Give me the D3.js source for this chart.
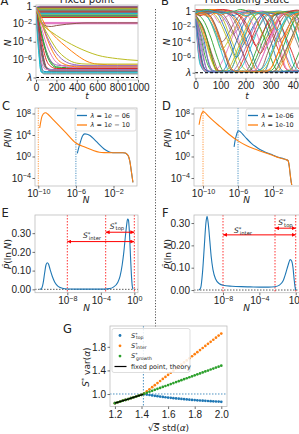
<!DOCTYPE html>
<html><head><meta charset="utf-8">
<script src="https://cdn.jsdelivr.net/npm/d3@7"></script>
<style>
body{margin:0;background:#fff}
svg{display:block;font-family:"DejaVu Sans",sans-serif}
</style></head><body>
<svg id="fig" width="299" height="434"></svg>
<script>
// ---------- data (log10 values where noted) ----------
// A: fixed point trajectories, log10 N
var aSurvT = [0, 40, 1000];
var aSurvStart = [-0.5,-0.9,-0.2,-1.2,-0.4,-0.7,-0.8,-1.0,-0.6,-0.3,-1.4,-0.8,-0.5,-0.2,-1.1,-0.9,-1.2,-0.6,-1.3,-0.3,-0.7,-1.0,-0.5,-1.6,-0.15,-0.95,-0.4,-0.65,-0.35,-1.1];
var aSurvEnd   = [-0.08,-0.12,-0.16,-0.2,-0.24,-0.28,-1.85,-0.36,-0.4,-0.45,-0.5,-0.55,-0.6,-0.66,-0.72,-0.78,-1.95,-0.9,-0.96,-1.02,-1.08,-1.15,-1.22,-1.3,-0.05,-0.14,-2.0,-0.5,-0.32,-0.84];
var aT = [0, 25, 50, 75, 100, 150, 200, 300, 400, 500, 600, 800, 1000];
var aDecay = [
  [-0.6,-3.5,-6.5,-7.3,-7.35,-7.35,-7.35,-7.35,-7.35,-7.35,-7.35,-7.35,-7.35],
  [-0.1,-0.5,-1.2,-1.8,-2.3,-3.0,-3.6,-4.6,-5.5,-6.2,-6.5,-6.6,-6.6],
  [-0.5,-1.5,-2.8,-4.0,-5.0,-6.3,-6.8,-6.9,-6.9,-6.9,-6.9,-6.9,-6.9],
  [-0.3,-2.2,-4.2,-5.8,-6.8,-7.2,-7.25,-7.25,-7.25,-7.25,-7.25,-7.25,-7.25],
  [-0.7,-1.8,-3.2,-4.3,-5.2,-6.2,-6.6,-6.7,-6.7,-6.7,-6.7,-6.7,-6.7],
  [-0.5,-1.2,-1.8,-2.1,-2.25,-2.3,-2.2,-2.05,-1.95,-1.9,-1.9,-1.9,-1.9],
  [-0.2,-1.2,-2.3,-3.3,-4.2,-5.5,-6.3,-6.8,-6.9,-6.9,-6.9,-6.9,-6.9],
  [-0.9,-3.0,-5.2,-6.5,-7.0,-7.2,-7.2,-7.2,-7.2,-7.2,-7.2,-7.2,-7.2],
  [-0.8,-1.4,-1.9,-2.2,-2.5,-2.9,-3.3,-4.0,-4.6,-5.1,-5.5,-5.9,-6.1],
  [-0.8,-4.5,-7.4,-7.5,-7.5,-7.5,-7.5,-7.5,-7.5,-7.5,-7.5,-7.5,-7.5],
  [-0.4,-2.5,-4.5,-6.0,-6.9,-7.1,-7.1,-7.1,-7.1,-7.1,-7.1,-7.1,-7.1],
  [-0.6,-1.0,-1.8,-2.6,-3.4,-4.8,-5.8,-6.6,-6.8,-6.8,-6.8,-6.8,-6.8],
  [-0.3,-1.6,-3.0,-4.2,-5.3,-6.5,-6.9,-7.0,-7.0,-7.0,-7.0,-7.0,-7.0],
  [-0.5,-2.0,-3.6,-5.0,-6.0,-6.8,-7.0,-7.0,-7.0,-7.0,-7.0,-7.0,-7.0],
  [-0.2,-0.8,-1.6,-2.4,-3.2,-4.4,-5.3,-6.3,-6.6,-6.7,-6.7,-6.7,-6.7],
  [-0.7,-2.8,-4.8,-6.2,-6.9,-7.3,-7.3,-7.3,-7.3,-7.3,-7.3,-7.3,-7.3],
  [-0.9,-3.8,-6.0,-6.9,-7.1,-7.15,-7.15,-7.15,-7.15,-7.15,-7.15,-7.15,-7.15],
  [-1.2,-4.0,-6.8,-7.6,-7.6,-7.6,-7.6,-7.6,-7.6,-7.6,-7.6,-7.6,-7.6],
  [-0.4,-1.0,-1.7,-2.3,-2.9,-3.9,-4.8,-5.9,-6.4,-6.5,-6.5,-6.5,-6.5],
  [-1.0,-5.0,-7.3,-7.4,-7.4,-7.4,-7.4,-7.4,-7.4,-7.4,-7.4,-7.4,-7.4]
];
// B: fluctuating trajectories, log10 N (each line shifted in time by bShift)
var bT = [0,25,50,75,100,125,150,175,200,225,250,275,300,325,350,375,400,425,450];
var bLines = [
  [-0.2,-0.1,0,0.1,0,-0.2,-0.5,-1.5,-3.5,-5.5,-7.5,-7.8,-6,-4,-2,-0.5,-0.1,0,0.1],
  [-0.5,-2.5,-5,-7.5,-7.8,-7.8,-6.5,-4.5,-2.5,-0.8,-0.3,-0.2,-1,-3,-5.5,-7.6,-7.8,-7.8,-7],
  [-0.3,-3,-6.5,-7.8,-7.8,-7.8,-7.8,-7.8,-7.9,-7,-5,-3,-1,-0.4,-0.3,-0.5,-2,-4.5,-7],
  [-0.1,0,0.1,0.2,0.1,0,-0.1,0,0.1,0,-0.3,-1.5,-3.5,-5.5,-7.5,-7.8,-7.8,-7.2,-5.5],
  [-0.6,-4,-7.7,-7.9,-7.9,-7.8,-7.9,-7.8,-7.9,-7.8,-7.9,-7.8,-7.9,-7.8,-7.9,-7.8,-7.9,-7.8,-7.9],
  [-0.4,-0.2,-0.5,-2,-4,-3,-1.5,-0.5,-0.2,-0.1,-0.3,-1,-2.5,-4,-3,-1.5,-0.5,-0.2,-0.3],
  [-0.8,-5,-7.8,-7.8,-7.4,-6,-4,-2,-0.5,-0.2,-0.1,0,-0.5,-2.5,-5,-7.5,-7.8,-7.8,-7.8],
  [-0.2,-0.4,-1,-2.5,-4.5,-6.5,-7.8,-7.9,-7.8,-7.5,-6,-4,-2,-0.5,-0.1,0,0.1,-0.2,-1],
  [0,0.2,0.1,-0.2,-1,-3,-5,-7,-7.8,-7.9,-7.8,-7.8,-7.9,-7.2,-5.5,-3.5,-1.5,-0.3,0],
  [-1,-6,-7.9,-7.8,-7.8,-7.9,-7.5,-5.5,-3.5,-1.5,-0.4,-0.2,-0.1,-0.4,-2,-4.5,-7,-7.8,-7.8],
  [-0.3,-0.1,0,-0.4,-2,-4,-6,-4.5,-3,-1.5,-0.5,-0.2,-0.1,-0.2,-0.2,-0.6,-2.5,-5,-7.4],
  [-0.7,-2,-4.5,-7,-7.9,-7.8,-7.9,-7.8,-7.9,-7.8,-7.9,-7.8,-7.5,-6,-4,-2.5,-1,-0.3,-0.2],
  [-0.1,0.1,0.2,0,-0.2,-0.1,0,0.2,0,-0.5,-2,-4,-6.5,-7.8,-7.8,-7.6,-6,-4,-2],
  [-0.9,-4.5,-7.6,-7.9,-7.8,-7.8,-7.9,-7.8,-6.5,-4.5,-2.5,-0.8,-0.2,-0.3,-1.5,-3.5,-5.5,-7.5,-7.9],
  [-0.2,-0.3,-0.1,-0.2,-0.5,-1.5,-3,-2,-0.8,-0.3,-0.2,-0.1,-0.3,-0.2,-0.1,-0.4,-1.2,-0.5,-0.2],
  [-0.5,-1.5,-3.5,-6,-7.8,-7.8,-7.9,-7.8,-7.9,-7.8,-7.8,-7.9,-7.8,-7.9,-7.8,-7.9,-7.8,-7.8,-7.9],
  [-0.4,-0.3,-0.2,-0.1,-0.1,-0.6,-2.5,-5,-7.5,-7.8,-6.5,-4.5,-2.5,-0.6,-0.2,-0.1,-0.3,-1.5,-4],
  [-0.6,-6.5,-7.9,-7.8,-7.9,-7.8,-7.9,-7.8,-7.9,-7.8,-7.9,-7.8,-7.9,-7.8,-7.9,-7.8,-7.9,-7.8,-7.9],
  [-0.3,-0.2,-1,-3,-5,-4,-2.5,-1,-0.3,-0.5,-2,-3.5,-2.5,-1,-0.3,-0.1,-0.2,-0.5,-2],
  [0.1,0,-0.3,-1.5,-3.5,-6,-7.8,-7.8,-7.2,-5.5,-3.5,-1.5,-0.4,-0.1,0,-0.3,-1.5,-3.5,-6],
  [-0.5,-3.5,-7.2,-7.9,-7.8,-6.5,-4.5,-2.5,-0.7,-0.2,-0.4,-2,-4.5,-7,-7.9,-7.8,-7.9,-7,-5],
  [-0.2,-0.1,0.1,0.2,0.1,-0.1,-0.6,-2,-4,-6.5,-7.8,-7.9,-7.8,-7.9,-6.8,-4.8,-2.8,-1,-0.3],
  [-0.8,-2.5,-5.5,-7.8,-7.9,-7.8,-7.9,-7.8,-7.9,-7.9,-7.8,-7.9,-7.5,-5.8,-3.8,-1.8,-0.5,-0.2,-0.1],
  [-0.3,-0.6,-0.4,-0.2,-0.1,-0.3,-0.2,-0.4,-1,-2.5,-4.5,-3,-1.5,-0.5,-0.3,-0.2,-0.4,-0.3,-0.2],
  [-0.4,-5.5,-7.8,-7.9,-7.9,-7.9,-7.8,-7.9,-7.8,-7.9,-7.8,-7.9,-7.9,-7.8,-7.9,-7.9,-7.8,-7.9,-7.8],
  [0,-0.2,-0.8,-2.5,-5,-7.5,-7.9,-7.8,-7.9,-7.8,-7.5,-5.5,-3.5,-1.5,-0.4,-0.1,-0.3,-1.5,-3.5],
  [-0.6,-0.3,-0.2,-0.5,-1.5,-0.8,-0.3,-0.1,-0.2,-1.2,-3,-5,-4,-2,-0.6,-0.3,-0.5,-2,-4.5],
  [-0.7,-4,-7.6,-7.9,-7.9,-7.8,-7.9,-7.9,-7.8,-7.9,-7.9,-7.8,-7.9,-7.8,-7.9,-7.8,-7.9,-6.5,-4.5],
  [-0.1,-0.2,-0.1,-0.6,-2,-4,-6,-7.8,-7.9,-7.9,-7.8,-7.3,-5.5,-3.5,-1.5,-0.3,-0.1,0,0.1],
  [-0.9,-7,-7.9,-7.8,-7.9,-7.8,-7.9,-7.9,-7.8,-7.9,-7.8,-7.4,-6,-4,-2,-0.5,-0.2,-0.5,-2],
  [-0.2,-0.1,-0.3,-0.2,-0.1,-0.3,-0.6,-0.3,-0.1,0,-0.2,-0.1,-0.3,-0.5,-0.2,-0.1,-0.3,-0.1,0],
  [-0.5,-0.4,-0.7,-0.3,-0.5,-0.2,-0.1,-0.4,-0.7,-0.3,-0.1,-0.5,-0.6,-0.2,-0.4,-0.7,-0.3,-0.2,-0.4],
  [-0.3,-0.5,-1.5,-3.5,-6,-7.8,-7.9,-7.8,-7.9,-7.9,-6.5,-4.5,-2.5,-0.7,-0.2,-0.1,-0.2,-1,-3],
  [0.2,0.1,0,0.1,0.2,0.1,-0.2,-1,-2.5,-4,-5.5,-4,-2.5,-1,-0.3,0,0.1,0,-0.2],
  [-0.7,-3,-6,-7.9,-7.8,-7.9,-7.8,-6.8,-5,-3,-1.2,-0.3,-0.6,-2.5,-4.5,-6.5,-7.8,-7.9,-7.8],
  [-0.4,-0.1,0,-0.1,-0.6,-2,-3.8,-5.5,-7.2,-7.9,-7.8,-7.9,-7.8,-6.5,-4.8,-3,-1.2,-0.3,-0.1],
  [-0.8,-6,-7.9,-7.8,-7.9,-7.8,-7.9,-7.8,-7.9,-7.8,-7.6,-6,-4,-2,-0.5,-0.3,-1,-3,-5.5],
  [-0.1,-0.3,-0.2,-0.1,0,-0.3,-1.2,-3,-4.5,-3.5,-2,-0.8,-0.2,-0.1,-0.5,-2,-4,-6,-7.8],
  [-0.6,-1.8,-4,-6.5,-7.9,-7.8,-7.1,-5.2,-3.2,-1.2,-0.3,-0.2,-0.1,-0.2,-0.1,-0.3,-0.9,-2.5,-4.5],
  [-0.2,0,0.1,-0.1,-0.3,-0.2,-0.1,-0.3,-0.6,-0.4,-0.2,-0.3,-1,-2.5,-1.5,-0.6,-0.2,-0.1,-0.2],
  [-1,-7.5,-7.9,-7.9,-7.8,-7.9,-7.8,-7.9,-7.9,-7.8,-7.9,-7.8,-7.9,-7.9,-7.8,-7.9,-7.8,-7.9,-7.9],
  [-0.5,-0.2,-0.4,-1.5,-3.5,-5.5,-7.5,-7.9,-7.8,-7.9,-7.8,-7.9,-7.7,-6.2,-4.2,-2.2,-0.6,-0.2,-0.1]
];
var bShift = [0,8,-6,12,-3,5,-10,3,9,-7,14,-2,6,-12,1,-5,10,-8,4,-14,7,-1,11,-9,2,13,-4,-11,6,-6,0,3,-13,9,-3,15,-8,5,-10,2,12,-5];
// C: P(N), fixed point (log10 N, log10 P)
var cBlueX = [-5.85,-5.7,-5.5,-5.3,-5.05,-4.8,-4.5,-4.0,-3.5,-3.0,-2.5,-2.2,-2.0,-1.5,-1.0,-0.75,-0.55,-0.4,-0.25,-0.1,0.0,0.07];
var cBlueY = [0.6,1.6,2.8,3.8,4.2,4.15,3.9,3.1,2.2,1.4,0.9,0.75,0.7,0.7,0.7,0.65,0.4,0.0,-1.0,-2.8,-4.0,-4.8];
var cOrangeX = [-9.85,-9.6,-9.35,-9.2,-9.0,-8.5,-8.0,-7.0,-6.0,-5.0,-4.2,-3.5,-3.0,-2.0,-1.5,-1.0,-0.75,-0.55,-0.4,-0.25,-0.1,0.0,0.07];
var cOrangeY = [5.3,7.5,8.1,8.15,7.9,7.0,6.1,4.3,2.5,1.7,1.15,0.8,0.72,0.7,0.7,0.7,0.65,0.4,0.0,-1.0,-2.8,-4.0,-4.8];
// D: P(N), fluctuating state
var dBlueX = [-6.45,-6.35,-6.2,-6.05,-5.95,-5.8,-5.5,-5.0,-4.5,-4.0,-3.5,-3.0,-2.0,-1.3,-0.8,-0.5,-0.3,-0.15,-0.05,0.05,0.14];
var dBlueY = [1.8,2.8,3.9,4.6,4.8,4.7,4.2,3.3,2.5,1.85,1.3,0.9,0.25,-0.2,-0.42,-0.6,-0.75,-1.8,-3.2,-4.5,-5.3];
var dOrangeX = [-10.45,-10.3,-10.15,-9.97,-9.8,-9.5,-9.0,-8.0,-7.0,-6.0,-5.0,-4.0,-3.0,-2.0,-1.3,-0.8,-0.5,-0.3,-0.15,-0.05,0.05,0.14];
var dOrangeY = [5.9,7.2,8.0,8.35,8.2,7.7,6.9,5.5,4.1,2.9,2.0,1.35,0.75,0.2,-0.25,-0.45,-0.6,-0.75,-1.8,-3.2,-4.5,-5.3];
var lambdas = [-6, -10];
// E, F: P-hat(ln N) vs log10 N
var eX = [-11.3,-11.1,-10.9,-10.7,-10.55,-10.4,-10.25,-10.05,-9.8,-9.5,-9.1,-8.6,-8.0,-6.0,-4.0,-3.0,-2.5,-2.0,-1.7,-1.45,-1.25,-1.05,-0.9,-0.8,-0.7,-0.58,-0.46,-0.35,-0.25,-0.15];
var eY = [0,0.003,0.03,0.09,0.13,0.142,0.135,0.105,0.07,0.038,0.016,0.006,0.002,0.001,0.001,0.004,0.012,0.035,0.07,0.13,0.2,0.29,0.35,0.375,0.37,0.3,0.18,0.08,0.02,0];
var eCuts = [-8, -3.42, 0];
var fX = [-10.65,-10.45,-10.25,-10.05,-9.88,-9.75,-9.6,-9.45,-9.3,-9.1,-8.8,-8.4,-8.0,-7.0,-6.0,-5.0,-4.0,-3.0,-2.3,-1.8,-1.4,-1.1,-0.85,-0.6,-0.45,-0.3,-0.18,-0.08,0.0];
var fY = [0,0.01,0.08,0.2,0.3,0.33,0.29,0.22,0.15,0.09,0.048,0.028,0.021,0.017,0.015,0.014,0.013,0.013,0.015,0.022,0.04,0.075,0.11,0.136,0.13,0.1,0.05,0.015,0];
var fCuts = [-8, -2.28, 0];
// G
var gX = [1.20,1.22,1.24,1.26,1.28,1.30,1.32,1.34,1.36,1.38,1.40,1.42,1.44,1.46,1.48,1.50,1.52,1.54,1.56,1.58,1.60,1.62,1.64,1.66,1.68,1.70,1.72,1.74,1.76,1.78,1.80,1.82,1.84,1.86,1.88,1.90,1.92,1.94,1.96,1.98,2.00];
var gTop = [0.845,0.858,0.872,0.886,0.900,0.914,0.929,0.943,0.957,0.971,0.986,0.997,0.990,0.983,0.976,0.969,0.963,0.957,0.951,0.945,0.940,0.935,0.930,0.925,0.921,0.916,0.912,0.908,0.904,0.900,0.897,0.893,0.890,0.887,0.884,0.881,0.878,0.876,0.873,0.871,0.868];
var gInter = [0.845,0.858,0.872,0.886,0.900,0.914,0.929,0.943,0.957,0.971,0.986,1.010,1.045,1.080,1.115,1.150,1.185,1.220,1.255,1.290,1.325,1.360,1.395,1.430,1.465,1.500,1.535,1.570,1.605,1.640,1.675,1.710,1.745,1.780,1.815,1.850,1.885,1.920,1.955,1.990,2.025];
var gGrowth = [0.845,0.858,0.872,0.886,0.900,0.914,0.929,0.943,0.957,0.971,0.986,1.005,1.021,1.038,1.054,1.070,1.087,1.103,1.120,1.136,1.152,1.169,1.185,1.202,1.218,1.234,1.251,1.267,1.284,1.300,1.316,1.333,1.349,1.366,1.382,1.398,1.415,1.431,1.448,1.464,1.480];
var thX = [1.2, 1.25, 1.3, 1.35, 1.4, 1.4142];
var thY = [0.845, 0.880, 0.914, 0.950, 0.986, 1.0];

// ---------- drawing ----------
var tab = d3.schemeCategory10;
var MINUS = "\u2212";
var svg = d3.select("#fig");
var defs = svg.append("defs");
var nClip = 0;

function plotArea(x0, y0, x1, y1) {
  var id = "clip" + (nClip++);
  defs.append("clipPath").attr("id", id).append("rect")
    .attr("x", x0).attr("y", y0).attr("width", x1 - x0).attr("height", y1 - y0);
  return svg.append("g").attr("clip-path", "url(#" + id + ")");
}
function frame(x0, y0, x1, y1) {
  svg.append("rect").attr("x", x0).attr("y", y0).attr("width", x1 - x0).attr("height", y1 - y0)
    .attr("fill", "none").attr("stroke", "#bdbdbd").attr("stroke-width", 0.8);
}
function axis(orient, scale, pos, ticks, fmt) {
  var ax = (orient === "b" ? d3.axisBottom(scale) : d3.axisLeft(scale))
    .tickValues(ticks).tickSize(2.5).tickPadding(1.5);
  if (fmt) ax.tickFormat(fmt);
  var g = svg.append("g")
    .attr("transform", orient === "b" ? "translate(0," + pos + ")" : "translate(" + pos + ",0)")
    .attr("font-family", "DejaVu Sans").attr("font-size", 8.5)
    .call(ax);
  g.select(".domain").remove();
  g.selectAll(".tick line").attr("stroke", "#333").attr("stroke-width", 0.7);
  g.selectAll(".tick text").attr("fill", "#222");
  return g;
}
function powTicks(g, special) {
  g.selectAll(".tick text").each(function(d) {
    var e = Math.round(Math.log10(d));
    var t = d3.select(this).text(null);
    if (special && special[e] !== undefined) {
      t.append("tspan").attr("font-style", special[e].italic ? "italic" : null).text(special[e].text);
      return;
    }
    t.append("tspan").text("10");
    t.append("tspan").attr("dy", "-0.45em").attr("font-size", "0.72em")
      .text(e < 0 ? MINUS + (-e) : String(e));
  });
}
function txt(x, y, parts, opt) {
  opt = opt || {};
  var t = svg.append("text").attr("x", x).attr("y", y)
    .attr("font-size", opt.size || 9).attr("fill", opt.fill || "#222")
    .attr("text-anchor", opt.anchor || "middle");
  if (opt.rotate) t.attr("x", 0).attr("y", 0).attr("transform", "translate(" + x + "," + y + ") rotate(-90)");
  parts.forEach(function(p) {
    if (typeof p === "string") p = {t: p};
    var s = t.append("tspan").text(p.t);
    if (p.i) s.attr("font-style", "italic");
    if (p.dy) s.attr("dy", p.dy);
    if (p.dx) s.attr("dx", p.dx);
    if (p.fs) s.attr("font-size", p.fs);
    if (p.deco) s.attr("text-decoration", p.deco);
  });
  return t;
}
function panelLetter(x, y, s) {
  svg.append("text").attr("x", x).attr("y", y).attr("font-size", 11.5).attr("fill", "#222").text(s);
}
function sStar(sub) {
  return [{t: "S", i: true}, {t: "*", dy: "-0.45em", fs: "0.7em"}, {t: sub, dy: "0.75em", dx: "-0.3em", fs: "0.7em"}];
}

// ----- A -----
var xA = d3.scaleLinear().domain([0, 1000]).range([36, 138]);
var yA = d3.scaleLog().domain([Math.pow(10, -8.28), Math.pow(10, 0.1)]).range([80, 5]);
var pA = plotArea(36, 5, 138, 80);
var lineA = function(ts) {
  return d3.line().x(function(d, i) { return xA(ts[i]); })
    .y(function(d) { return yA(Math.pow(10, d)); }).curve(d3.curveMonotoneX);
};
aSurvStart.forEach(function(s, i) {
  pA.append("path").attr("d", lineA(aSurvT)([s, aSurvEnd[i], aSurvEnd[i]]))
    .attr("fill", "none").attr("stroke", tab[i % 10]).attr("stroke-width", 1);
});
aDecay.forEach(function(row, k) {
  pA.append("path").attr("d", lineA(aT)(row))
    .attr("fill", "none").attr("stroke", tab[(30 + k) % 10]).attr("stroke-width", 1);
});
pA.append("line").attr("x1", 36).attr("x2", 138).attr("y1", yA(1e-8)).attr("y2", yA(1e-8))
  .attr("stroke", "#000").attr("stroke-width", 1).attr("stroke-dasharray", "3,2");
frame(36, 5, 138, 80);
axis("b", xA, 80, [0, 200, 400, 600, 800, 1000], d3.format("d"));
powTicks(axis("l", yA, 36, [1, 1e-2, 1e-4, 1e-6, 1e-8]), {"0": {text: "1"}, "-8": {text: "\u03bb", italic: true}});
txt(87, 2.5, ["Fixed point"], {size: 10});
txt(87, 98.5, [{t: "t", i: true}]);
txt(11, 43, [{t: "N", i: true}], {rotate: true});
panelLetter(0.5, 4.5, "A");

// ----- B -----
var xB = d3.scaleLinear().domain([0, 1000]).range([195.5, 445.5]);
var yB = d3.scaleLog().domain([Math.pow(10, -8.71), Math.pow(10, 0.778)]).range([78.2, 5]);
var pB = plotArea(195, 5, 300, 78.2);
bLines.forEach(function(row, k) {
  var ts = bT.map(function(t, i) { return i === 0 ? 0 : t + bShift[k]; });
  pB.append("path").attr("d", d3.line().x(function(d, i) { return xB(ts[i]); })
      .y(function(d) { return yB(Math.pow(10, d)); }).curve(d3.curveMonotoneX)(row))
    .attr("fill", "none").attr("stroke", tab[k % 10]).attr("stroke-width", 0.9);
});
pB.append("line").attr("x1", 195).attr("x2", 300).attr("y1", yB(1e-8)).attr("y2", yB(1e-8))
  .attr("stroke", "#000").attr("stroke-width", 1).attr("stroke-dasharray", "3,2");
frame(195, 5, 300, 78.2);
axis("b", xB, 78.2, [0, 100, 200, 300, 400]);
powTicks(axis("l", yB, 195, [1, 1e-2, 1e-4, 1e-6, 1e-8]), {"0": {text: "1"}, "-8": {text: "\u03bb", italic: true}});
txt(247, 2.5, ["Fluctuating state"], {size: 10});
txt(247, 98.5, [{t: "t", i: true}]);
txt(169.5, 42, [{t: "N", i: true}], {rotate: true});
panelLetter(161, 4.5, "B");

// separator
svg.append("line").attr("x1", 155.5).attr("x2", 155.5).attr("y1", 9).attr("y2", 327)
  .attr("stroke", "#555").attr("stroke-width", 1).attr("stroke-dasharray", "1.2,1.6");

// ----- C, D -----
function distPanel(x0, x1, xs, blue, orange, legendBox, legendLabels, ylabX) {
  var y = d3.scaleLog().domain([Math.pow(10, -5.49), Math.pow(10, 9.02)]).range([186, 108]);
  var p = plotArea(x0, 108, x1, 186);
  var ln = d3.line().x(function(d) { return xs(Math.pow(10, d[0])); })
    .y(function(d) { return y(Math.pow(10, d[1])); }).curve(d3.curveMonotoneX);
  [blue, orange].forEach(function(s, k) {
    p.append("line").attr("x1", xs(Math.pow(10, lambdas[k]))).attr("x2", xs(Math.pow(10, lambdas[k])))
      .attr("y1", 108).attr("y2", 186).attr("stroke", tab[k]).attr("stroke-width", 0.8)
      .attr("stroke-dasharray", "1.2,1.2");
  });
  [blue, orange].forEach(function(s, k) {
    p.append("path").attr("d", ln(d3.zip(s[0], s[1]))).attr("fill", "none")
      .attr("stroke", tab[k]).attr("stroke-width", 1.1);
  });
  frame(x0, 108, x1, 186);
  powTicks(axis("b", xs, 186, [1e-10, 1e-6, 1e-2]));
  powTicks(axis("l", y, x0, [1e-4, 1, 1e4, 1e8]));
  var lb = legendBox;
  svg.append("rect").attr("x", lb[0]).attr("y", lb[1]).attr("width", lb[2]).attr("height", lb[3])
    .attr("rx", 2).attr("fill", "#fff").attr("fill-opacity", 0.85).attr("stroke", "#d0d0d0").attr("stroke-width", 0.7);
  legendLabels.forEach(function(parts, k) {
    var yy = lb[1] + 6.5 + k * 9.5;
    svg.append("line").attr("x1", lb[0] + 2).attr("x2", lb[0] + 12).attr("y1", yy).attr("y2", yy)
      .attr("stroke", tab[k]).attr("stroke-width", 1.3);
    txt(lb[0] + 15.5, yy + 2.3, parts, {size: 6.5, anchor: "start"});
  });
  txt((x0 + Math.min(x1, 299)) / 2, 203, [{t: "N", i: true}]);
  txt(ylabX, 138, [{t: "P", i: true}, "(", {t: "N", i: true}, ")"], {rotate: true});
}
var xC = d3.scaleLog().domain([Math.pow(10, -10.35), Math.pow(10, 0.5)]).range([35, 137]);
distPanel(35, 137, xC, [cBlueX, cBlueY], [cOrangeX, cOrangeY], [75, 109, 61, 22],
  [[{t: "\u03bb", i: true}, " = 1", {t: "e", i: true}, " " + MINUS + " 06"],
   [{t: "\u03bb", i: true}, " = 1", {t: "e", i: true}, " " + MINUS + " 10"]], 10.5);
panelLetter(2, 110, "C");
var xD = d3.scaleLog().domain([Math.pow(10, -11.03), Math.pow(10, 1.08)]).range([194, 300]);
distPanel(194, 300, xD, [dBlueX, dBlueY], [dOrangeX, dOrangeY], [246, 109, 60, 22],
  [[{t: "\u03bb", i: true}, " = 1e-06"], [{t: "\u03bb", i: true}, " = 1e-10"]], 171);
panelLetter(162, 110, "D");

// ----- E, F -----
defs.append("marker").attr("id", "arr").attr("viewBox", "0 0 10 10").attr("refX", 10).attr("refY", 5)
  .attr("markerWidth", 4).attr("markerHeight", 4).attr("markerUnits", "userSpaceOnUse")
  .attr("orient", "auto-start-reverse")
  .append("path").attr("d", "M0,0L10,5L0,10z").attr("fill", "red");

function pdfPanel(x0, x1, xs, ys, xsData, ysData, cuts, arrows, ylabX) {
  var p = plotArea(x0, 215, x1, 292.7);
  p.append("line").attr("x1", x0).attr("x2", x1).attr("y1", ys(0)).attr("y2", ys(0))
    .attr("stroke", "#333").attr("stroke-width", 0.8).attr("stroke-dasharray", "1.5,1.5");
  cuts.forEach(function(c) {
    p.append("line").attr("x1", xs(Math.pow(10, c))).attr("x2", xs(Math.pow(10, c)))
      .attr("y1", 215).attr("y2", 292.7).attr("stroke", "red").attr("stroke-width", 0.8)
      .attr("stroke-dasharray", "1.5,1.5");
  });
  p.append("path").attr("d", d3.line().x(function(d) { return xs(Math.pow(10, d[0])); })
      .y(function(d) { return ys(d[1]); }).curve(d3.curveMonotoneX)(d3.zip(xsData, ysData)))
    .attr("fill", "none").attr("stroke", tab[0]).attr("stroke-width", 1.1);
  arrows.forEach(function(a) {
    svg.append("line").attr("x1", xs(Math.pow(10, a.from))).attr("x2", xs(Math.pow(10, a.to)))
      .attr("y1", ys(a.y)).attr("y2", ys(a.y)).attr("stroke", "red").attr("stroke-width", 1)
      .attr("marker-start", "url(#arr)").attr("marker-end", "url(#arr)");
    txt(a.lx, a.ly, sStar(a.name), {size: 7.5});
  });
  frame(x0, 215, x1, 292.7);
  powTicks(axis("b", xs, 292.7, [1e-8, 1e-4, 1]));
  axis("l", ys, x0, [0, 0.1, 0.2, 0.3], d3.format(".2f"));
  txt((x0 + Math.min(x1, 299)) / 2, 311, [{t: "N", i: true}]);
  txt(ylabX, 254, [{t: "P\u0302", i: true}, "(ln ", {t: "N", i: true}, ")"], {rotate: true});
}
var xE = d3.scaleLog().domain([Math.pow(10, -11.86), Math.pow(10, 0.44)]).range([35, 138]);
var yE = d3.scaleLinear().domain([-0.018, 0.397]).range([292.7, 215]);
pdfPanel(35, 138, xE, yE, eX, eY, eCuts,
  [{from: -8, to: 0, y: 0.255, name: "inter", lx: 92, ly: 238},
   {from: eCuts[1], to: 0, y: 0.305, name: "top", lx: 117, ly: 228.5}], 10.5);
panelLetter(1.5, 216.5, "E");
var xF = d3.scaleLog().domain([Math.pow(10, -11.19), Math.pow(10, 0.47)]).range([194, 300]);
var yF = d3.scaleLinear().domain([-0.012, 0.336]).range([292.7, 215]);
pdfPanel(194, 300, xF, yF, fX, fY, fCuts,
  [{from: -8, to: 0, y: 0.247, name: "inter", lx: 243, ly: 233},
   {from: fCuts[1], to: 0, y: 0.277, name: "top", lx: 285.5, ly: 225}], 170.5);
panelLetter(162, 216.5, "F");

// ----- G -----
var xG = d3.scaleLinear().domain([1.163, 2.043]).range([110, 227]);
var yG = d3.scaleLinear().domain([0.788, 2.153]).range([406.5, 326]);
var pG = plotArea(110, 326, 227, 406.5);
pG.append("line").attr("x1", xG(1.4142)).attr("x2", xG(1.4142)).attr("y1", 326).attr("y2", 406.5)
  .attr("stroke", tab[0]).attr("stroke-width", 0.8).attr("stroke-dasharray", "1.5,1.5");
pG.append("line").attr("x1", 110).attr("x2", 227).attr("y1", yG(1)).attr("y2", yG(1))
  .attr("stroke", tab[0]).attr("stroke-width", 0.8).attr("stroke-dasharray", "1.5,1.5");
[gTop, gInter, gGrowth].forEach(function(s, k) {
  pG.selectAll(null).data(d3.zip(gX, s)).enter().append("circle")
    .attr("cx", function(d) { return xG(d[0]); }).attr("cy", function(d) { return yG(d[1]); })
    .attr("r", 1.35).attr("fill", tab[k]);
});
pG.append("path").attr("d", d3.line().x(function(d) { return xG(d[0]); })
    .y(function(d) { return yG(d[1]); })(d3.zip(thX, thY)))
  .attr("fill", "none").attr("stroke", "#000").attr("stroke-width", 1.2);
frame(110, 326, 227, 406.5);
axis("b", xG, 406.5, [1.2, 1.4, 1.6, 1.8, 2.0], d3.format(".1f"));
axis("l", yG, 110, [1.0, 1.4, 1.8], d3.format(".1f"));
// legend
svg.append("rect").attr("x", 112).attr("y", 328.5).attr("width", 78).attr("height", 44)
  .attr("rx", 2).attr("fill", "#fff").attr("fill-opacity", 0.85).attr("stroke", "#d0d0d0").attr("stroke-width", 0.7);
["top", "inter", "growth"].forEach(function(n, k) {
  var yy = 335.5 + k * 10.3;
  svg.append("circle").attr("cx", 120).attr("cy", yy).attr("r", 1.4).attr("fill", tab[k]);
  txt(131, yy + 2.3, sStar(n), {size: 6.5, anchor: "start"});
});
svg.append("line").attr("x1", 114.5).attr("x2", 126.5).attr("y1", 366.5).attr("y2", 366.5)
  .attr("stroke", "#000").attr("stroke-width", 1.2);
txt(131, 368.8, ["fixed point, theory"], {size: 6.5, anchor: "start"});
txt(89, 367, [{t: "S", i: true}, {t: "*", dy: "-0.45em", fs: "0.7em"}, {t: " var(", dy: "0.45em"}, {t: "\u03b1", i: true}, ")"], {rotate: true, size: 9});
txt(168.5, 431, ["\u221a", {t: "S", i: true, deco: "overline"}, " std(", {t: "\u03b1", i: true}, ")"], {size: 9});
panelLetter(63, 333, "G");
</script>
</body></html>
